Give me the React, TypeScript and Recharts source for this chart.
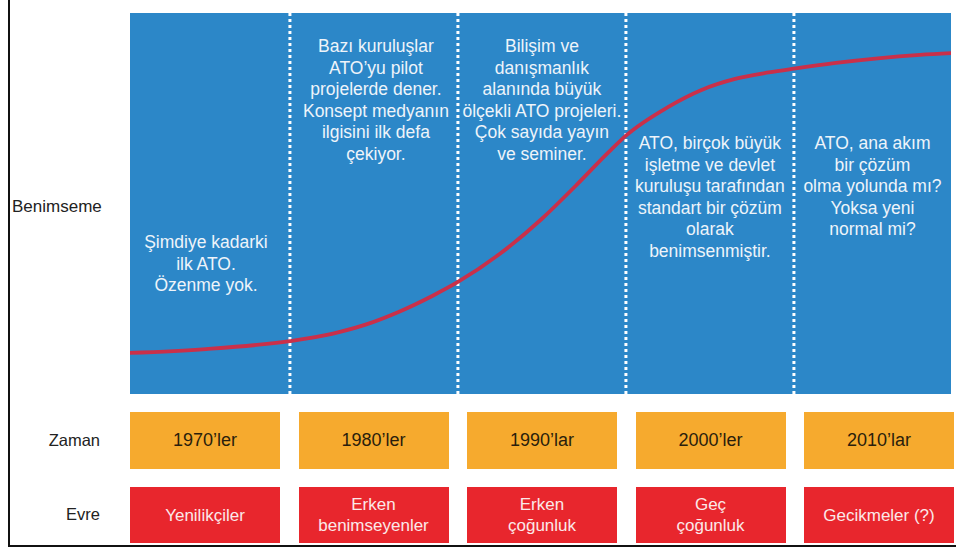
import React from 'react';
import {
  ComposedChart, Line, XAxis, YAxis, ReferenceArea, ReferenceLine,
} from 'recharts';

// adoption curve (year, adoption %)
const years = [1970, 1975, 1980, 1982.5, 1984.5, 1986.5, 1988.5, 1990, 1992.5, 1995, 1997, 1999, 2000, 2002.5, 2004.5, 2006.5, 2008.5, 2010, 2012.5, 2015, 2017.5, 2020];
const adoption = [10.7, 11.8, 13.9, 15.8, 18.2, 21.6, 25.8, 29.4, 36.8, 46, 54.6, 63.6, 67.8, 75.3, 79.8, 82.7, 84.4, 85.4, 86.9, 88.1, 89, 89.6];

const decadeStarts = [1970, 1980, 1990, 2000, 2010];
const dividers = [1980, 1990, 2000, 2010];

const columnTexts = [
  ['Şimdiye kadarki', 'ilk ATO.', 'Özenme yok.'],
  ['Bazı kuruluşlar', 'ATO’yu pilot', 'projelerde dener.', 'Konsept medyanın', 'ilgisini ilk defa', 'çekiyor.'],
  ['Bilişim ve', 'danışmanlık', 'alanında büyük', 'ölçekli ATO projeleri.', 'Çok sayıda yayın', 've seminer.'],
  ['ATO, birçok büyük', 'işletme ve devlet', 'kuruluşu tarafından', 'standart bir çözüm', 'olarak', 'benimsenmiştir.'],
  ['ATO, ana akım', 'bir çözüm', 'olma yolunda mı?', 'Yoksa yeni', 'normal mi?'],
];

const periods = ['1970’ler', '1980’ler', '1990’lar', '2000’ler', '2010’lar'];
const phases = [['Yenilikçiler'], ['Erken', 'benimseyenler'], ['Erken', 'çoğunluk'], ['Geç', 'çoğunluk'], ['Gecikmeler (?)']];

const rowLabels = { adoption: 'Benimseme', time: 'Zaman', phase: 'Evre' };

const data = years.map((y, i) => ({ year: y, value: adoption[i] }));

// first-line offset of each column's text, from the top of the panel
const textTop = [229, 33, 33, 130, 130];
const textShift = [-4, 2, 0, 0, 0];

const BLUE = '#2c87c8';
const FONT = '"Liberation Sans", Arial, sans-serif';

const ColumnText = ({ viewBox, lines, top, shift }: any) => {
  const cx = viewBox.x + viewBox.width / 2 + shift;
  return (
    <text x={cx} y={viewBox.y + top} textAnchor="middle" fill="#eef4fa"
      style={{ fontFamily: FONT, fontSize: 17.5 }} dominantBaseline="central">
      {lines.map((l: string, i: number) => (
        <tspan key={i} x={cx} dy={i === 0 ? 0 : 21.5}>{l}</tspan>
      ))}
    </text>
  );
};

const boxLeft = (i: number) => 130 + i * 168.5;

export default function App() {
  return (
    <div style={{ position: 'relative', width: 956, height: 551, fontFamily: FONT, background: '#fff' }}>
      <style>{'body{margin:0}'}</style>
      <div style={{
        position: 'absolute', left: 8, top: 0, width: 946, height: 545,
        borderLeft: '2px solid #111', borderBottom: '2px solid #111',
      }} />
      <div style={{ position: 'absolute', left: 0, top: 0 }}>
        <ComposedChart width={956} height={551} data={data}
          margin={{ top: 13, right: 5, bottom: 157, left: 130 }}>
          <XAxis dataKey="year" type="number" domain={[1970.48, 2019.35]} allowDataOverflow hide />
          <YAxis type="number" domain={[0, 100]} allowDataOverflow hide />
          <ReferenceArea x1={1970.48} x2={2019.35} y1={0} y2={100} fill={BLUE} fillOpacity={1} stroke="none" />
          {decadeStarts.map((d, i) => (
            <ReferenceArea key={d} x1={Math.max(d, 1970.48)} x2={Math.min(d + 10, 2019.35)} y1={0} y2={100}
              fillOpacity={0} stroke="none"
              label={(p: any) => <ColumnText viewBox={p.viewBox} lines={columnTexts[i]} top={textTop[i]} shift={textShift[i]} />} />
          ))}
          {dividers.map((d) => (
            <ReferenceLine key={d} x={d} stroke="#ffffff" strokeWidth={3} strokeDasharray="3 3" />
          ))}
          <Line dataKey="value" type="monotone" stroke="#c9304a" strokeWidth={3.8}
            dot={false} activeDot={false} isAnimationActive={false} />
        </ComposedChart>
      </div>

      <div style={{ position: 'absolute', left: 12, top: 197, fontSize: 17, color: '#222' }}>{rowLabels.adoption}</div>
      <div style={{ position: 'absolute', left: 0, width: 100, textAlign: 'right', top: 431, fontSize: 16.5, color: '#222' }}>{rowLabels.time}</div>
      <div style={{ position: 'absolute', left: 0, width: 100, textAlign: 'right', top: 505, fontSize: 16.5, color: '#222' }}>{rowLabels.phase}</div>

      {periods.map((p, i) => (
        <div key={p} style={{
          position: 'absolute', left: boxLeft(i), top: 412, width: 150, height: 57,
          background: '#f6aa2e', color: '#2a1e0c', fontSize: 18,
          display: 'flex', alignItems: 'center', justifyContent: 'center',
        }}>{p}</div>
      ))}
      {phases.map((p, i) => (
        <div key={i} style={{
          position: 'absolute', left: boxLeft(i), top: 487, width: 150, height: 56,
          background: '#e8262d', color: '#fbe9e9', fontSize: 17, lineHeight: '21px',
          display: 'flex', flexDirection: 'column', alignItems: 'center', justifyContent: 'center',
        }}>
          {p.map((l) => <span key={l}>{l}</span>)}
        </div>
      ))}
    </div>
  );
}
